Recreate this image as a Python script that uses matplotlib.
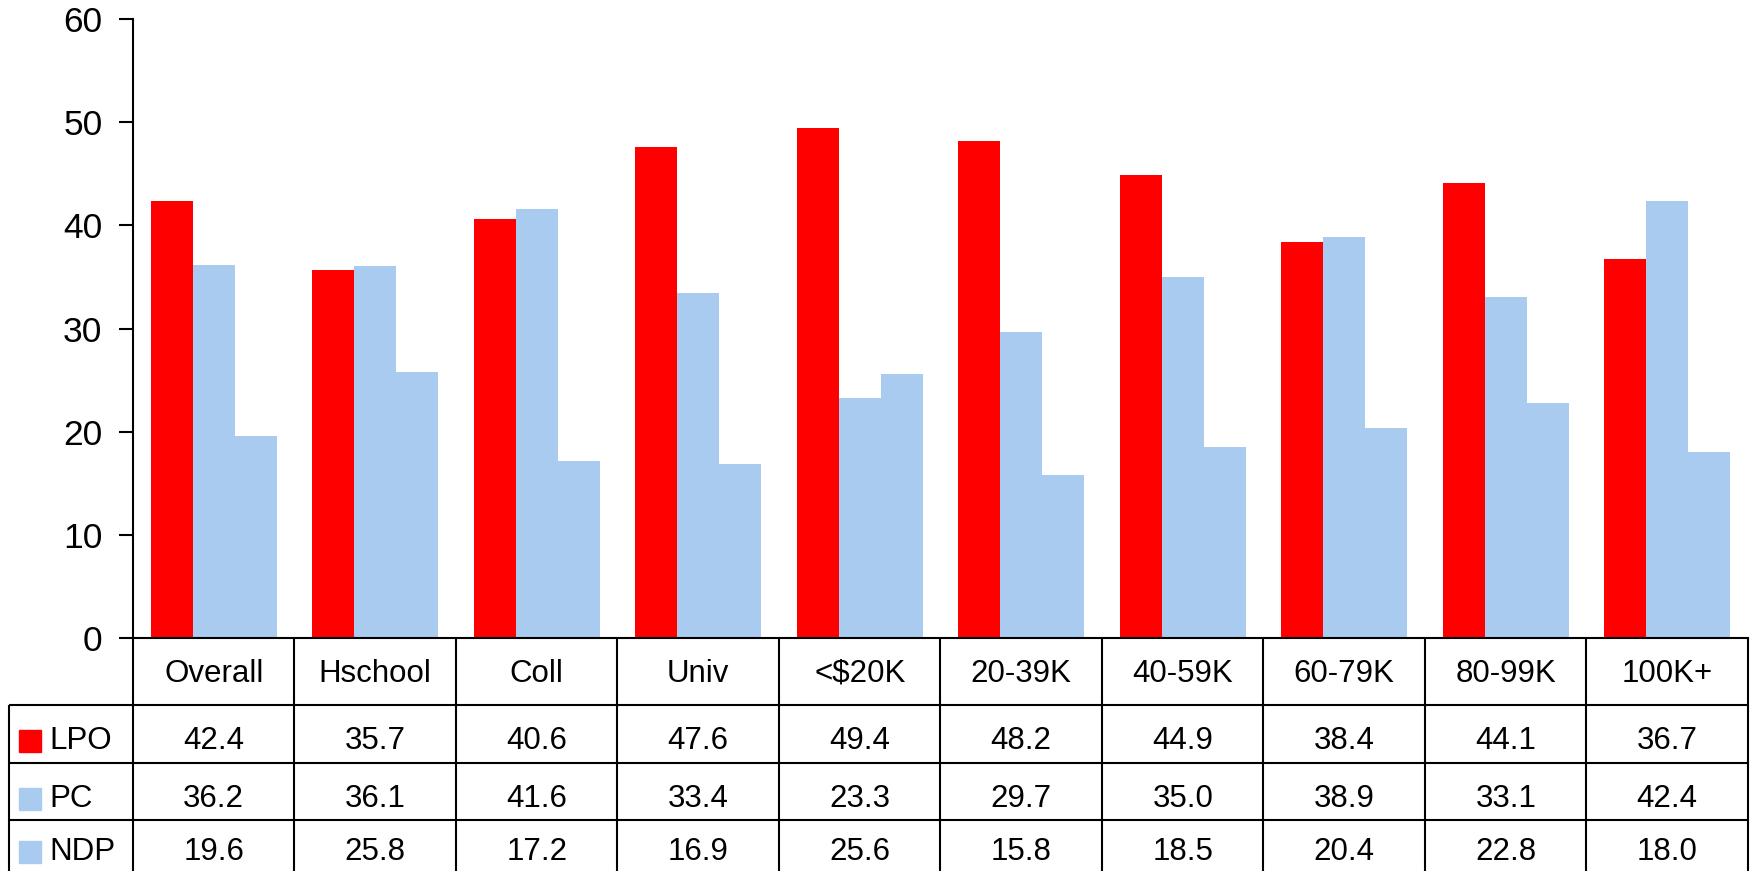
import matplotlib
matplotlib.use("Agg")
import matplotlib.pyplot as plt
from matplotlib.patches import Rectangle

plt.rcParams['font.family'] = ['Liberation Sans', 'DejaVu Sans']

categories = ["Overall", "Hschool", "Coll", "Univ", "<$20K", "20-39K", "40-59K", "60-79K", "80-99K", "100K+"]
series_names = ["LPO", "PC", "NDP"]
lpo = [42.4, 35.7, 40.6, 47.6, 49.4, 48.2, 44.9, 38.4, 44.1, 36.7]
pc = [36.2, 36.1, 41.6, 33.4, 23.3, 29.7, 35.0, 38.9, 33.1, 42.4]
ndp = [19.6, 25.8, 17.2, 16.9, 25.6, 15.8, 18.5, 20.4, 22.8, 18.0]
series = [lpo, pc, ndp]
colors = ["#FF0000", "#A9CBEF", "#A9CBEF"]
yticks = [0, 10, 20, 30, 40, 50, 60]

W, H = 1750, 871
fig = plt.figure(figsize=(W / 100, H / 100), dpi=100)

# layout in pixels
ax_left, ax_right, ax_top, ax_bottom = 133, 1748, 19, 638
ax = fig.add_axes([ax_left / W, 1 - ax_bottom / H, (ax_right - ax_left) / W, (ax_bottom - ax_top) / H])

n = len(categories)
bw = 0.26
for k, (vals, col) in enumerate(zip(series, colors)):
    xs = [i + (k - 1) * bw for i in range(n)]
    ax.bar(xs, vals, width=bw, color=col, edgecolor='none', zorder=2)

lw = 1.5
ax.set_xlim(-0.5, n - 0.5)
ax.set_ylim(0, 60)
ax.set_yticks(yticks)
ax.set_yticklabels([str(t) for t in yticks], fontsize=25.5)
ax.set_xticks([])
ax.tick_params(axis='y', direction='out', length=10, width=lw, pad=12)
for s in ['top', 'right']:
    ax.spines[s].set_visible(False)
ax.spines['left'].set_linewidth(lw)
ax.spines['bottom'].set_linewidth(lw)

# table axes, pixel y coordinates
tab_left = 9
colw = (ax_right - ax_left) / n
x0 = -0.5 - (ax_left - tab_left) / colw
axt = fig.add_axes([tab_left / W, 0, (ax_right - tab_left) / W, (H - ax_bottom) / H])
axt.set_xlim(x0, n - 0.5)
axt.set_ylim(H, ax_bottom)
axt.axis('off')

row_edges = [638, 705, 763, 820, 878]
for i in range(n + 1):
    axt.plot([i - 0.5, i - 0.5], [row_edges[0], H], color='black', lw=lw, clip_on=False, solid_capstyle='butt')
axt.plot([x0, x0], [row_edges[1], H], color='black', lw=lw, clip_on=False, solid_capstyle='butt')
for y in row_edges[1:4]:
    axt.plot([x0, n - 0.5], [y, y], color='black', lw=lw, clip_on=False, solid_capstyle='butt')

fs = 22.5
hy = (row_edges[0] + row_edges[1]) / 2 + 2
for i, c in enumerate(categories):
    axt.text(i, hy, c, ha='center', va='center', fontsize=fs)

for r, (name, vals, col) in enumerate(zip(series_names, series, colors)):
    yc = (row_edges[r + 1] + row_edges[r + 2]) / 2 + 7
    if r == 2:
        yc = 852
    # legend square
    sx = x0 + (19 - tab_left) / colw
    sw = 22 / colw
    axt.add_patch(Rectangle((sx, yc - 11), sw, 22, color=col, clip_on=False))
    axt.text(x0 + (49 - tab_left) / colw, yc, name, ha='left', va='center', fontsize=fs)
    for i, v in enumerate(vals):
        axt.text(i, yc, f"{v:.1f}", ha='center', va='center', fontsize=fs)

fig.savefig("out.png", dpi=100)
